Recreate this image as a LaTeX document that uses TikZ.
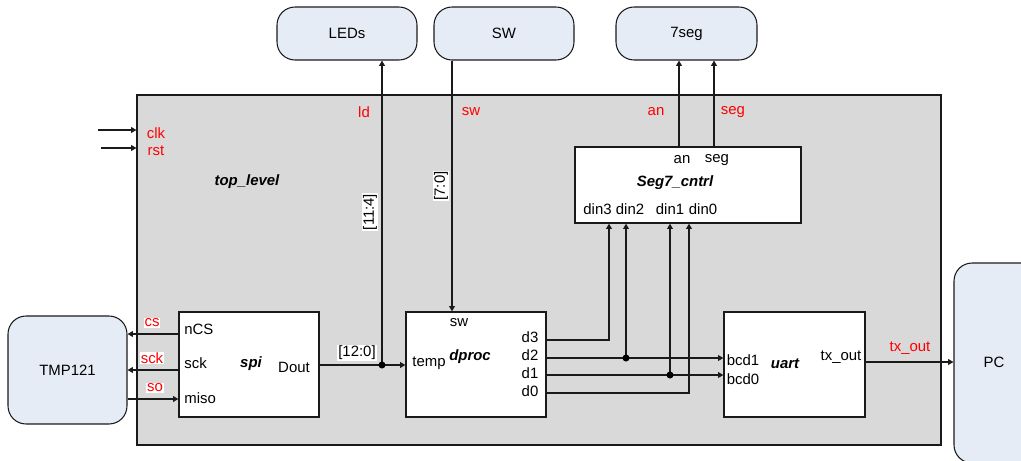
\documentclass[tikz,border=0pt]{standalone}
\usepackage{fontspec}
\setmainfont{Liberation Sans}
\usetikzlibrary{arrows.meta,calc}
\definecolor{topgray}{HTML}{D9D9D9}
\definecolor{extblue}{HTML}{E6ECF6}
\definecolor{sigred}{HTML}{FF0000}
\definecolor{linecol}{HTML}{1A1A1A}
\begin{document}
\begin{tikzpicture}[x=0.02cm,y=-0.02cm, font=\fontsize{8.5}{10}\selectfont,
 box/.style={draw=linecol, line width=0.7pt, fill=white, inner sep=0},
 ext/.style={draw=linecol, line width=0.6pt, fill=extblue, rounded corners=0.36cm, inner sep=0},
 wire/.style={draw=linecol, line width=0.8pt},
 arr/.style={wire, -{Triangle[length=3pt,width=3.2pt]}},
 mod/.style={font=\fontsize{8.5}{10}\selectfont\bfseries\itshape},
 sig/.style={text=sigred, inner sep=0.5pt},
 sigbg/.style={text=sigred, fill=white, inner sep=0.5pt},
 bus/.style={fill=white, inner sep=0.5pt},
 jdot/.style={circle, fill=black, inner sep=0, minimum size=4pt}]
\useasboundingbox (0,0) rectangle (1021,460);
\clip (0,0) rectangle (1021,460);
% columns and rows
\coordinate (cLd) at (382,0);
\coordinate (cSw) at (452,0);
\coordinate (c3) at (609,0);
\coordinate (c2) at (626,0);
\coordinate (c1) at (670,0);
\coordinate (c0) at (689,0);
\coordinate (cAn) at (679,0);
\coordinate (cSeg) at (714,0);
\coordinate (rCs) at (0,334);
\coordinate (rSck) at (0,370);
\coordinate (rSo) at (0,399);
\coordinate (rD) at (0,365);
\coordinate (rD3) at (0,340);
\coordinate (rD2) at (0,358);
\coordinate (rD1) at (0,375);
\coordinate (rD0) at (0,393);
\coordinate (rTx) at (0,362);
\coordinate (clkin) at (98,130);
\coordinate (rstin) at (101,148);

% top level box
\node[draw=linecol, line width=0.7pt, fill=topgray, inner sep=0, minimum width=16.08cm, minimum height=7cm] (top) at (539,270) {};

% external blocks
\node[ext, minimum width=2.38cm, minimum height=2.16cm] (tmp) at (67.5,370) {TMP121};
\node[ext, minimum width=2.8cm, minimum height=1.06cm] (leds) at (347,33.5) {LEDs};
\node[ext, minimum width=2.8cm, minimum height=1.06cm] (swb) at (504,33.5) {SW};
\node[ext, minimum width=2.82cm, minimum height=1.06cm] (sevs) at (686.5,33.5) {7seg};
\node[ext, minimum width=1.72cm, minimum height=4cm] (pc) at (997,363) {};
\node (pct) at (994,362) {PC};

% modules
\node[box, minimum width=2.8cm, minimum height=2.1cm] (spi) at (249,364.5) {};
\node[box, minimum width=2.8cm, minimum height=2.1cm] (dproc) at (476,364.5) {};
\node[box, minimum width=2.82cm, minimum height=2.1cm] (uart) at (794.5,364.5) {};
\node[box, minimum width=4.52cm, minimum height=1.52cm] (seg7) at (688,185) {};

% module texts
\node[mod] (tlt) at (247,182) {top\_level};
\node[anchor=west, inner sep=0] (ncs) at (184,329) {nCS};
\node[anchor=west, inner sep=0] (sckp) at (184,363) {sck};
\node[anchor=west, inner sep=0] (misop) at (184,398) {miso};
\node[mod] (spit) at (251,364) {spi};
\node[inner sep=0] (dout) at (294,367) {Dout};
\node[inner sep=0] (swp) at (459,323) {sw};
\node[inner sep=0] (tempp) at (429,363) {temp};
\node[mod, inner sep=0] (dprt) at (470,357) {dproc};
\node[inner sep=0] (d3p) at (530,337) {d3};
\node[inner sep=0] (d2p) at (530,355) {d2};
\node[inner sep=0] (d1p) at (530,373) {d1};
\node[inner sep=0] (d0p) at (530,391) {d0};
\node[inner sep=0] (anp) at (682,160) {an};
\node[inner sep=0] (segp) at (717,160) {seg};
\node[mod, inner sep=0] (segt) at (675,183) {Seg7\_cntrl};
\node[inner sep=0] (din3) at (597.5,209) {din3};
\node[inner sep=0] (din2) at (630,209) {din2};
\node[inner sep=0] (din1) at (670,209) {din1};
\node[inner sep=0] (din0) at (703,209) {din0};
\node[inner sep=0] (bcd1) at (743,360) {bcd1};
\node[inner sep=0] (bcd0) at (743,379) {bcd0};
\node[mod, inner sep=0] (uartt) at (785,364) {uart};
\node[inner sep=0] (txp) at (841,357) {tx\_out};

% signal labels
\node[sig] (clkl) at (156,133) {clk};
\node[sig] (rstl) at (156,151) {rst};
\node[sigbg] (csl) at (152,323) {cs};
\node[sigbg] (sckl) at (152,358) {sck};
\node[sigbg] (sol) at (155,388) {so};
\node[sig] (ldl) at (364,112) {ld};
\node[sig] (swl) at (471,112) {sw};
\node[sig] (anl) at (656,112) {an};
\node[sig] (segl) at (733,112) {seg};
\node[sig] (txl) at (910,348) {tx\_out};

% wires
\draw[arr] (clkin) -- (clkin -| top.west);
\draw[arr] (rstin) -- (rstin -| top.west);
\draw[arr] (spi.west |- rCs) -- (tmp.east |- rCs);
\draw[arr] (spi.west |- rSck) -- (tmp.east |- rSck);
\draw[arr] (tmp.east |- rSo) -- (spi.west |- rSo);
\draw[wire] (spi.east |- rD) -- (cLd |- rD);
\draw[arr] (cLd |- rD) -- (dproc.west |- rD);
\draw[arr] (cLd |- rD) -- (cLd |- leds.south);
\node[jdot] (j0) at (cLd |- rD) {};
\draw[arr] (cSw |- swb.south) -- (cSw |- dproc.north);
\draw[arr] (dproc.east |- rD3) -- (c3 |- rD3) -- (c3 |- seg7.south);
\draw[arr] (dproc.east |- rD2) -- (uart.west |- rD2);
\draw[arr] (c2 |- rD2) -- (c2 |- seg7.south);
\node[jdot] (j2) at (c2 |- rD2) {};
\draw[arr] (dproc.east |- rD1) -- (uart.west |- rD1);
\draw[arr] (c1 |- rD1) -- (c1 |- seg7.south);
\node[jdot] (j1) at (c1 |- rD1) {};
\draw[arr] (dproc.east |- rD0) -- (c0 |- rD0) -- (c0 |- seg7.south);
\draw[arr] (cAn |- seg7.north) -- (cAn |- sevs.south);
\draw[arr] (cSeg |- seg7.north) -- (cSeg |- sevs.south);
\draw[arr] (uart.east |- rTx) -- (pc.west |- rTx);

% bus labels
\node[bus] (b120) at (357,353) {[12:0]};
\node[bus, rotate=90] (b114) at (370,212) {[11:4]};
\node[bus, rotate=90] (b70) at (441,186) {[7:0]};
\end{tikzpicture}
\end{document}
